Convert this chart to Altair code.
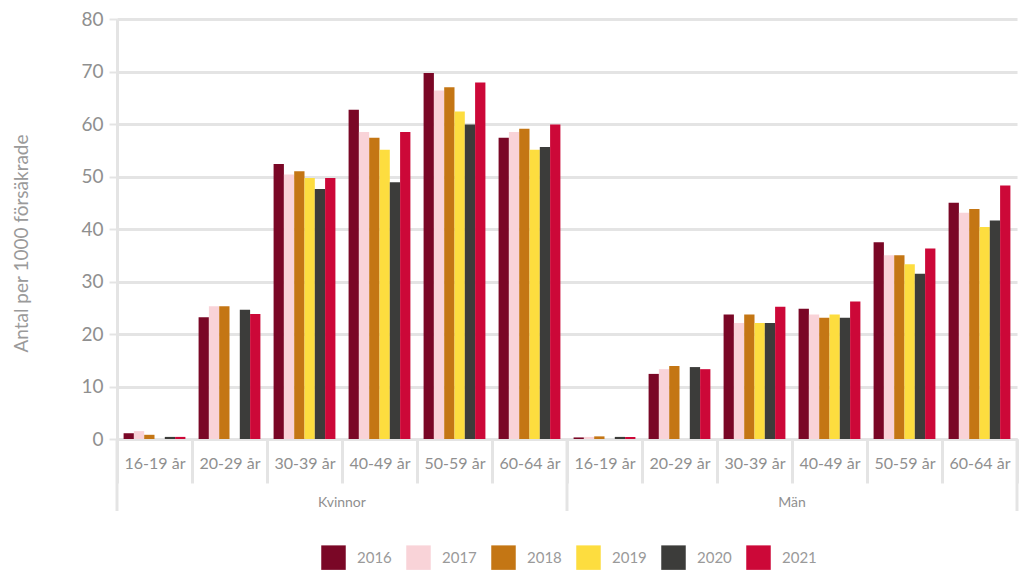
import altair as alt
import pandas as pd

ages = ["16-19 år", "20-29 år", "30-39 år", "40-49 år", "50-59 år", "60-64 år"]
genders = ["Kvinnor", "Män"]
years = ["2016", "2017", "2018", "2019", "2020", "2021"]
colors = ["#7a0726", "#f9d3d8", "#c47614", "#fddd3f", "#3c3c3a", "#cc0838"]

# Values per year, in age order (None = no value)
kvinnor = {
    "2016": [1.1, 23.2, 52.4, 62.7, 69.7, 57.4],
    "2017": [1.5, 25.3, 50.4, 58.5, 66.4, 58.5],
    "2018": [0.8, 25.3, 51.0, 57.4, 67.0, 59.1],
    "2019": [None, None, 49.7, 55.1, 62.4, 55.1],
    "2020": [0.4, 24.6, 47.6, 48.9, 59.9, 55.6],
    "2021": [0.4, 23.8, 49.7, 58.5, 67.9, 59.9],
}
man = {
    "2016": [0.3, 12.4, 23.7, 24.8, 37.5, 45.0],
    "2017": [0.4, 13.3, 22.1, 23.7, 35.0, 43.1],
    "2018": [0.5, 13.9, 23.7, 23.1, 35.0, 43.8],
    "2019": [None, None, 22.1, 23.7, 33.3, 40.4],
    "2020": [0.4, 13.7, 22.1, 23.1, 31.5, 41.6],
    "2021": [0.4, 13.3, 25.2, 26.2, 36.3, 48.3],
}
series = {"Kvinnor": kvinnor, "Män": man}

rows = []
for g in genders:
    for y in years:
        for a, v in zip(ages, series[g][y]):
            if v is None:
                continue
            rows.append({"key": f"{g}|{a}", "year": y, "value": v})
df = pd.DataFrame(rows)
keys = [f"{g}|{a}" for g in genders for a in ages]

FONT = "Lato"
GRAY = "#8f8f8f"
LINE = "#e4e4e4"
W, H = 900, 420

xscale = alt.Scale(domain=keys, paddingInner=0, paddingOuter=0)

bars = alt.Chart(df).mark_bar().encode(
    x=alt.X("key:N", scale=xscale, sort=keys, title=None,
            axis=alt.Axis(labelExpr="split(datum.label, '|')[1]", labelAngle=0,
                          labelFontSize=16, labelColor=GRAY, labelFont=FONT,
                          tickBand="extent", tickSize=44, tickColor=LINE, tickWidth=3,
                          labelPadding=-28, domainColor=LINE, domainWidth=3,
                          labelBaseline="top")),
    xOffset=alt.XOffset("year:N", sort=years,
                        scale=alt.Scale(paddingInner=0, paddingOuter=0.64)),
    y=alt.Y("value:Q", scale=alt.Scale(domain=[0, 80], nice=False),
            title="Antal per 1000 försäkrade",
            axis=alt.Axis(values=list(range(0, 81, 10)), labelFontSize=19,
                          labelColor=GRAY, labelFont=FONT, tickSize=8,
                          tickColor=LINE, tickWidth=2, labelPadding=6,
                          domainColor=LINE, domainWidth=3, gridColor=LINE,
                          gridWidth=3, titleFontSize=19, titleFont=FONT,
                          titleColor="#9a9a9a", titleFontWeight="normal",
                          titleX=-96, titleY=224, titleAlign="center",
                          titleBaseline="middle")),
    color=alt.Color("year:N", sort=years,
                    scale=alt.Scale(domain=years, range=colors),
                    legend=alt.Legend(title=None, orient="none", legendX=204,
                                      legendY=526, direction="horizontal",
                                      columns=6, symbolType="square",
                                      symbolSize=600, symbolStrokeWidth=0,
                                      labelFontSize=15, labelColor="#9a9a9a",
                                      labelFont=FONT, labelOffset=11,
                                      columnPadding=14, padding=0)),
)

glabels = pd.DataFrame({"key": ["Kvinnor|40-49 år", "Män|40-49 år"],
                        "label": genders})
gtext = alt.Chart(glabels).mark_text(fontSize=14, color=GRAY, font=FONT,
                                     baseline="middle").encode(
    x=alt.X("key:N", sort=keys, bandPosition=0),
    y=alt.value(H + 64),
    text="label:N",
)

seps = pd.DataFrame({"key": ["Kvinnor|16-19 år", "Män|16-19 år"]})
rule_l = alt.Chart(seps).mark_rule(color=LINE, strokeWidth=3).encode(
    x=alt.X("key:N", sort=keys, bandPosition=0),
    y=alt.value(H), y2=alt.value(H + 72),
)
seps_end = pd.DataFrame({"key": ["Män|60-64 år"]})
rule_r = alt.Chart(seps_end).mark_rule(color=LINE, strokeWidth=3).encode(
    x=alt.X("key:N", sort=keys, bandPosition=1),
    y=alt.value(H), y2=alt.value(H + 72),
)

chart = alt.layer(bars, rule_l, rule_r, gtext).properties(
    width=W, height=H, padding={"left": 4, "top": 2, "right": 0, "bottom": 0}
).configure_view(stroke=None).configure_axis(labelFontWeight="normal")

chart.save("out.html", embed_options={"renderer": "svg", "actions": False})
